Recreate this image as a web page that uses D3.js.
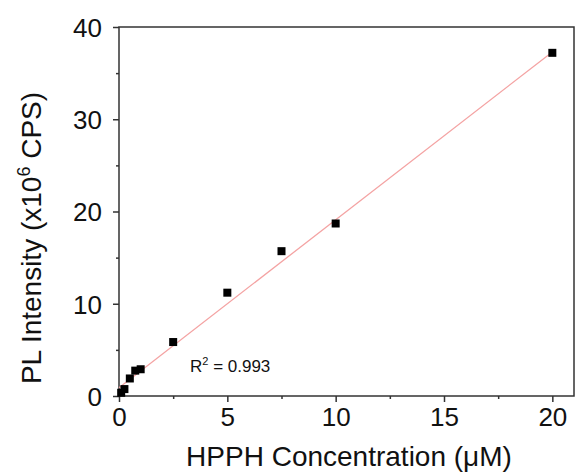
<!DOCTYPE html>
<html><head><meta charset="utf-8">
<script src="https://cdn.jsdelivr.net/npm/d3@7/dist/d3.min.js"></script>
<style>body{margin:0;background:#fff}svg{display:block}</style>
</head><body>
<script>
const concentration = [0.1, 0.25, 0.5, 0.75, 1.0, 2.5, 5, 7.5, 10, 20];
const intensity = [0.35, 0.75, 1.9, 2.75, 2.9, 5.85, 11.2, 15.7, 18.7, 37.2];
const fitX = [0, 20];
const fitY = [0.9, 37.3];
const xTicks = [0, 5, 10, 15, 20];
const xMinor = [2.5, 7.5, 12.5, 17.5];
const yTicks = [0, 10, 20, 30, 40];
const yMinor = [5, 15, 25, 35];
const r2Text = "0.993";

const W = 576, H = 476;
const m = {l:119, r:2, t:27, b:80};
const svg = d3.select("body").append("svg").attr("width", W).attr("height", H);
const x = d3.scaleLinear().domain([0, 21]).range([m.l, W - m.r]);
const y = d3.scaleLinear().domain([0, 40]).range([H - m.b, m.t]);
const font = "Liberation Sans, Arial, sans-serif";
const axisColor = "#333";

// frame
svg.append("rect").attr("x", x(0)).attr("y", y(40)).attr("width", x(21)-x(0)).attr("height", y(0)-y(40))
  .attr("fill","none").attr("stroke", axisColor).attr("stroke-width", 1.5);

// x axis
const gx = svg.append("g").attr("transform", `translate(0,${y(0)})`)
  .call(d3.axisBottom(x).tickValues(xTicks).tickSize(6).tickPadding(6).tickFormat(d3.format("d")));
const gxm = svg.append("g").attr("transform", `translate(0,${y(0)})`)
  .call(d3.axisBottom(x).tickValues(xMinor).tickSize(3).tickFormat(""));
// y axis
const gy = svg.append("g").attr("transform", `translate(${x(0)},0)`)
  .call(d3.axisLeft(y).tickValues(yTicks).tickSize(6).tickPadding(11).tickFormat(d3.format("d")));
const gym = svg.append("g").attr("transform", `translate(${x(0)},0)`)
  .call(d3.axisLeft(y).tickValues(yMinor).tickSize(3).tickFormat(""));
[gx,gxm,gy,gym].forEach(g => {
  g.select(".domain").remove();
  g.selectAll("line").attr("stroke", axisColor).attr("stroke-width", 1.5);
  g.selectAll("text").attr("fill","#111").style("font-family", font);
});
gx.selectAll("text").style("font-size","26px");
gy.selectAll("text").style("font-size","26px").attr("dy","0.36em");

// fit line
svg.append("path").datum(fitX.map((d,i)=>[d, fitY[i]]))
  .attr("d", d3.line().x(d=>x(d[0])).y(d=>y(d[1])))
  .attr("fill","none").attr("stroke","#f4a3a3").attr("stroke-width",1.3);

// points
svg.append("g").selectAll("rect").data(concentration.map((d,i)=>[d, intensity[i]])).join("rect")
  .attr("x", d=>x(d[0])-4).attr("y", d=>y(d[1])-4).attr("width",8).attr("height",8).attr("fill","#000");

// R^2 annotation
const rt = svg.append("text").attr("x", 190).attr("y", 372).style("font-family", font).style("font-size","17px").attr("fill","#111");
rt.append("tspan").text("R");
rt.append("tspan").attr("dy",-7).style("font-size","11px").text("2");
rt.append("tspan").attr("dy",7).text(" = " + r2Text);

// axis titles
svg.append("text").attr("x", 349).attr("y", 466).attr("text-anchor","middle")
  .style("font-family", font).style("font-size","28px").attr("fill","#111")
  .text("HPPH Concentration (\u03bcM)");
const yt = svg.append("text").attr("transform","translate(41,238) rotate(-90)").attr("text-anchor","middle")
  .style("font-family", font).style("font-size","28px").attr("fill","#111");
yt.append("tspan").text("PL Intensity (x10");
yt.append("tspan").attr("dy",-11).style("font-size","18px").text("6");
yt.append("tspan").attr("dy",11).text(" CPS)");
</script>
</body></html>
